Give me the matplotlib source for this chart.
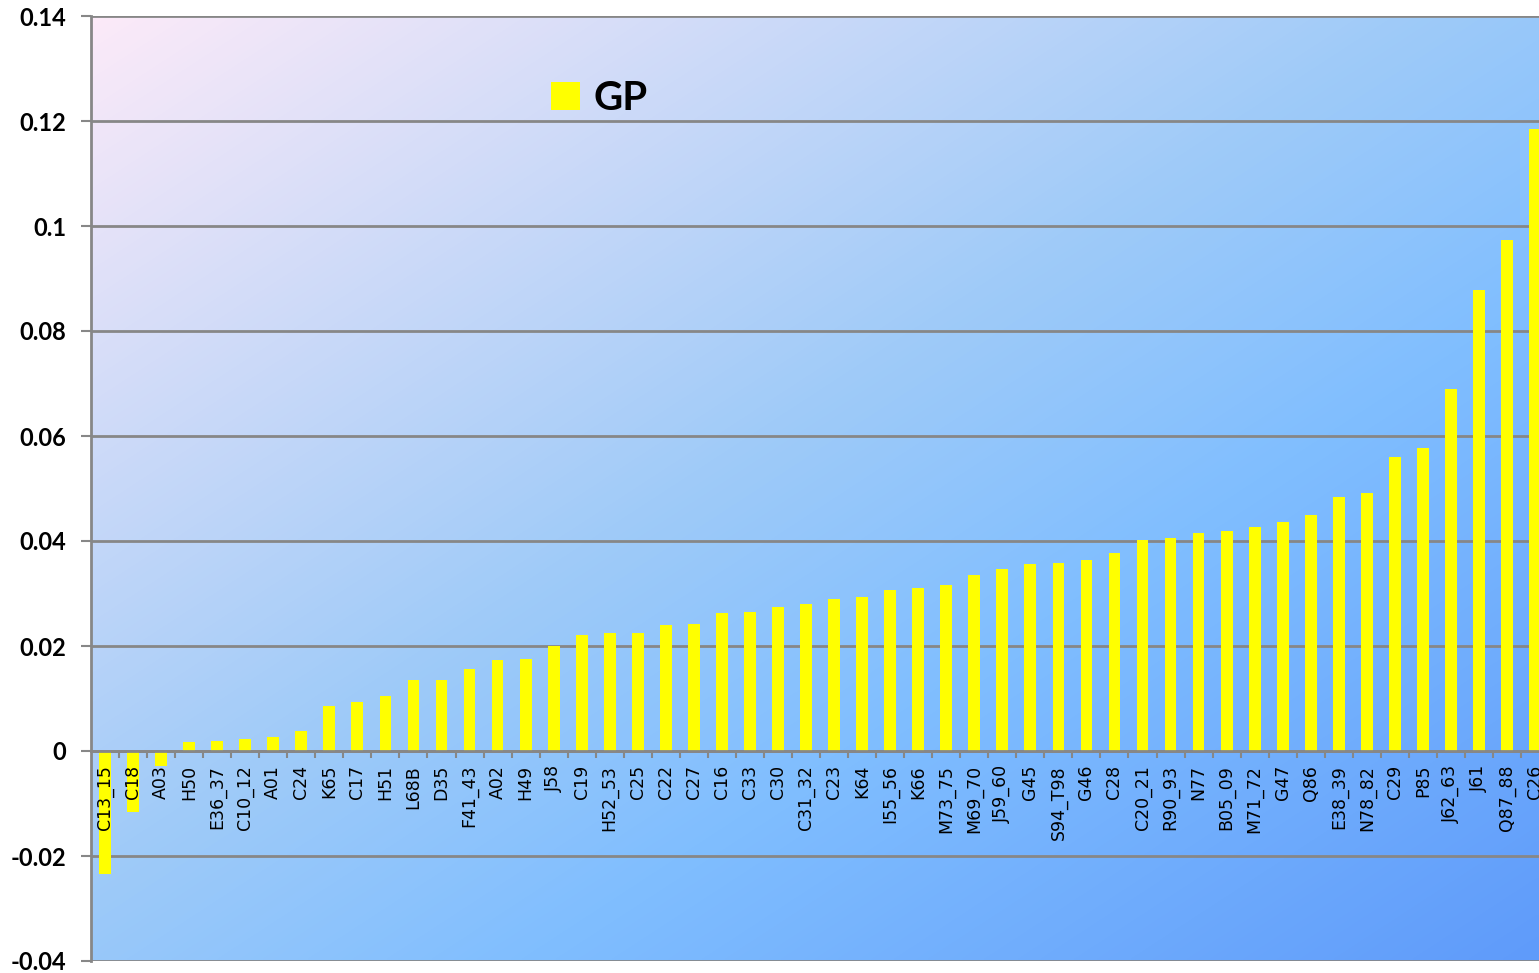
import matplotlib
matplotlib.use("Agg")
import matplotlib.pyplot as plt
import numpy as np
from matplotlib.colors import LinearSegmentedColormap
from matplotlib.patches import Patch

# values
categories = ["C13_15", "C18", "A03", "H50", "E36_37", "C10_12", "A01", "C24", "K65", "C17",
              "H51", "L68B", "D35", "F41_43", "A02", "H49", "J58", "C19", "H52_53", "C25",
              "C22", "C27", "C16", "C33", "C30", "C31_32", "C23", "K64", "I55_56", "K66",
              "M73_75", "M69_70", "J59_60", "G45", "S94_T98", "G46", "C28", "C20_21", "R90_93", "N77",
              "B05_09", "M71_72", "G47", "Q86", "E38_39", "N78_82", "C29", "P85", "J62_63", "J61",
              "Q87_88", "C26"]
gp = [-0.0234, -0.0116, -0.0029, 0.0017, 0.0019, 0.0023, 0.0027, 0.0038, 0.0086, 0.0093,
      0.0105, 0.0135, 0.0135, 0.0156, 0.0173, 0.0175, 0.0200, 0.0221, 0.0225, 0.0225,
      0.0240, 0.0242, 0.0263, 0.0265, 0.0274, 0.0280, 0.0290, 0.0293, 0.0307, 0.0310,
      0.0316, 0.0335, 0.0347, 0.0356, 0.0358, 0.0364, 0.0377, 0.0402, 0.0406, 0.0415,
      0.0419, 0.0427, 0.0436, 0.0450, 0.0484, 0.0491, 0.0560, 0.0577, 0.0690, 0.0878,
      0.0973, 0.1185]
yticks = [-0.04, -0.02, 0, 0.02, 0.04, 0.06, 0.08, 0.1, 0.12, 0.14]
ytick_labels = ["-0.04", "-0.02", "0", "0.02", "0.04", "0.06", "0.08", "0.1", "0.12", "0.14"]

GRID = "#878787"

fig = plt.figure(figsize=(15.39, 9.73), dpi=100)
ax = fig.add_axes([91 / 1539, 1 - 961 / 973, 1448 / 1539, 945 / 973])
ax.set_axisbelow(False)  # category labels drawn over the negative bars

# diagonal pink -> blue gradient behind the plot
bg = LinearSegmentedColormap.from_list("bg", [
    (0.0, (252 / 255, 234 / 255, 248 / 255)),
    (0.45, (160 / 255, 203 / 255, 248 / 255)),
    (0.65, (128 / 255, 190 / 255, 255 / 255)),
    (1.0, (95 / 255, 155 / 255, 250 / 255)),
])
u, v = np.meshgrid(np.linspace(0, 1, 300), np.linspace(0, 1, 200))
ax.imshow((u + v) / 2, cmap=bg, extent=[0, 1, 0, 1], transform=ax.transAxes,
          aspect="auto", zorder=0, interpolation="bilinear")

x = np.arange(len(categories))
ax.bar(x, gp, width=0.42, color="#ffff00", zorder=2, label="GP")

ax.set_yticks(yticks)
ax.set_yticklabels(ytick_labels, fontfamily="Lato", fontweight="bold", fontsize=17)
for y in yticks:
    ax.axhline(y, color=GRID, lw=2, zorder=1)

ax.tick_params(axis="y", direction="out", length=7, width=1.5, color=GRID, pad=11)

# category axis sits on the zero line
ax.spines["bottom"].set_position(("data", 0))
ax.spines["bottom"].set_color(GRID)
ax.spines["bottom"].set_linewidth(2)
ax.spines["left"].set_color(GRID)
ax.spines["left"].set_linewidth(2)
ax.spines["top"].set_visible(False)
ax.spines["right"].set_visible(False)

ax.set_xticks(x)
ax.set_xticklabels(categories, rotation=90, fontsize=12.5, fontfamily="DejaVu Sans",
                   va="top", ha="center")
ax.set_xticks(np.arange(len(categories)) + 0.5, minor=True)
ax.tick_params(axis="x", which="major", length=0, pad=10)
ax.tick_params(axis="x", which="minor", direction="out", length=5, width=1.5, color=GRID)

# limits last, set_xticks would widen them; the chart is cut through the last bar
ax.set_xlim(-0.5, 51.14)
ax.set_ylim(-0.04, 0.14)

ax.legend(handles=[Patch(facecolor="#ffff00", edgecolor="none")], labels=["GP"],
          loc="center left", bbox_to_anchor=(0.318, 0.913), frameon=False,
          prop={"family": "Lato", "weight": "bold", "size": 29},
          handlelength=0.7, handleheight=0.7, handletextpad=0.35,
          borderpad=0, borderaxespad=0)

fig.savefig("out.png", dpi=100)
